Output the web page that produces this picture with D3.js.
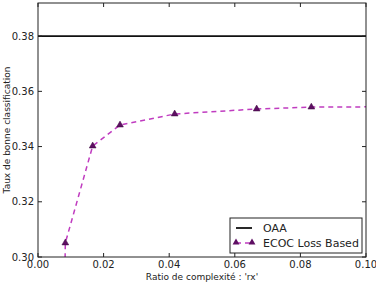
<!DOCTYPE html>
<html>
<head>
  <meta charset="utf-8">
  <style>
    body { margin: 0; background: #fff; font-family: "DejaVu Sans", sans-serif; }
    svg text { fill: #222; }
  </style>
</head>
<body>
  <svg id="chart" width="376" height="282"></svg>
  <script src="https://d3js.org/d3.v7.min.js"></script>
  <script>
    // DATA
    var ratios = [0.0080, 1 / 120, 1 / 60, 1 / 40, 1 / 24, 1 / 15, 1 / 12, 1 / 8];
    var ecocRates = [0.280, 0.3051, 0.3402, 0.3478, 0.3518, 0.3536, 0.3543, 0.3545];
    var oaaRate = 0.38;
    var xTicks = [0, 0.02, 0.04, 0.06, 0.08, 0.10];
    var yTicks = [0.30, 0.32, 0.34, 0.36, 0.38];
    var seriesNames = ['OAA', 'ECOC Loss Based'];

    function draw() {
      var pL = 38, pR = 366, pT = 3, pB = 257;

      var svg = d3.select('#chart');

      var x = d3.scaleLinear().domain([0, 0.10]).range([pL, pR]);
      var y = d3.scaleLinear().domain([0.30, 0.392]).range([pB, pT]);

      svg.append('clipPath').attr('id', 'clip')
        .append('rect')
          .attr('x', pL).attr('y', pT)
          .attr('width', pR - pL).attr('height', pB - pT);

      var plot = svg.append('g').attr('clip-path', 'url(#clip)');

      // OAA
      plot.append('line')
        .attr('x1', x(0)).attr('x2', x(0.10))
        .attr('y1', y(oaaRate)).attr('y2', y(oaaRate))
        .attr('stroke', '#111')
        .attr('stroke-width', 1.8);

      var pts = ratios.map((r, i) => [r, ecocRates[i]]);

      var line = d3.line()
        .x(d => x(d[0]))
        .y(d => y(d[1]));

      plot.append('path')
        .datum(pts)
        .attr('d', line)
        .attr('fill', 'none')
        .attr('stroke', '#c03cc0')
        .attr('stroke-width', 1.5)
        .attr('stroke-dasharray', '5,4');

      var tri = d3.symbol().type(d3.symbolTriangle).size(20);

      plot.selectAll('.mk')
        .data(pts)
        .enter()
          .append('path')
            .attr('class', 'mk')
            .attr('d', tri)
            .attr('transform', d => `translate(${x(d[0])},${y(d[1])})`)
            .attr('fill', '#5e0f63')
            .attr('stroke', '#3a0a3d')
            .attr('stroke-width', 0.5);

      // frame
      svg.append('rect')
        .attr('x', pL).attr('y', pT)
        .attr('width', pR - pL).attr('height', pB - pT)
        .attr('fill', 'none')
        .attr('stroke', '#222')
        .attr('stroke-width', 1);

      // ticks (inward, all sides)
      xTicks.forEach(function(t) {
        svg.append('line')
          .attr('x1', x(t)).attr('x2', x(t))
          .attr('y1', pB).attr('y2', pB - 4)
          .attr('stroke', '#222');
        svg.append('line')
          .attr('x1', x(t)).attr('x2', x(t))
          .attr('y1', pT).attr('y2', pT + 4)
          .attr('stroke', '#222');
        svg.append('text')
          .attr('x', x(t)).attr('y', 268)
          .attr('text-anchor', 'middle')
          .attr('font-size', 10)
          .text(d3.format('.2f')(t));
      });

      yTicks.forEach(function(t) {
        svg.append('line')
          .attr('x1', pL).attr('x2', pL + 4)
          .attr('y1', y(t)).attr('y2', y(t))
          .attr('stroke', '#222');
        svg.append('line')
          .attr('x1', pR).attr('x2', pR - 4)
          .attr('y1', y(t)).attr('y2', y(t))
          .attr('stroke', '#222');
        svg.append('text')
          .attr('x', 34).attr('y', y(t) + 3.5)
          .attr('text-anchor', 'end')
          .attr('font-size', 10)
          .text(d3.format('.2f')(t));
      });

      // axis titles
      svg.append('text')
        .attr('x', (pL + pR) / 2).attr('y', 280)
        .attr('text-anchor', 'middle')
        .attr('font-size', 9)
        .text("Ratio de complexité : 'rx'");

      svg.append('text')
        .attr('transform', `translate(10,${(pT + pB) / 2}) rotate(-90)`)
        .attr('text-anchor', 'middle')
        .attr('font-size', 9)
        .text('Taux de bonne classification');

      // legend
      var lg = svg.append('g').attr('transform', 'translate(230,218)');
      lg.append('rect')
        .attr('width', 132).attr('height', 35)
        .attr('fill', '#fff')
        .attr('stroke', '#222')
        .attr('stroke-width', 1);

      lg.append('line')
        .attr('x1', 6).attr('x2', 22)
        .attr('y1', 10).attr('y2', 10)
        .attr('stroke', '#111').attr('stroke-width', 1.8);

      lg.append('line')
        .attr('x1', 6).attr('x2', 22)
        .attr('y1', 25).attr('y2', 25)
        .attr('stroke', '#c03cc0').attr('stroke-width', 1.5)
        .attr('stroke-dasharray', '5,4');

      [6, 22].forEach(function(px) {
        lg.append('path')
          .attr('d', tri)
          .attr('transform', `translate(${px},24.5)`)
          .attr('fill', '#5e0f63');
      });

      seriesNames.forEach(function(name, i) {
        lg.append('text')
          .attr('x', 33).attr('y', 14 + i * 15)
          .attr('font-size', 11)
          .text(name);
      });
    }

    draw();
  </script>
</body>
</html>
